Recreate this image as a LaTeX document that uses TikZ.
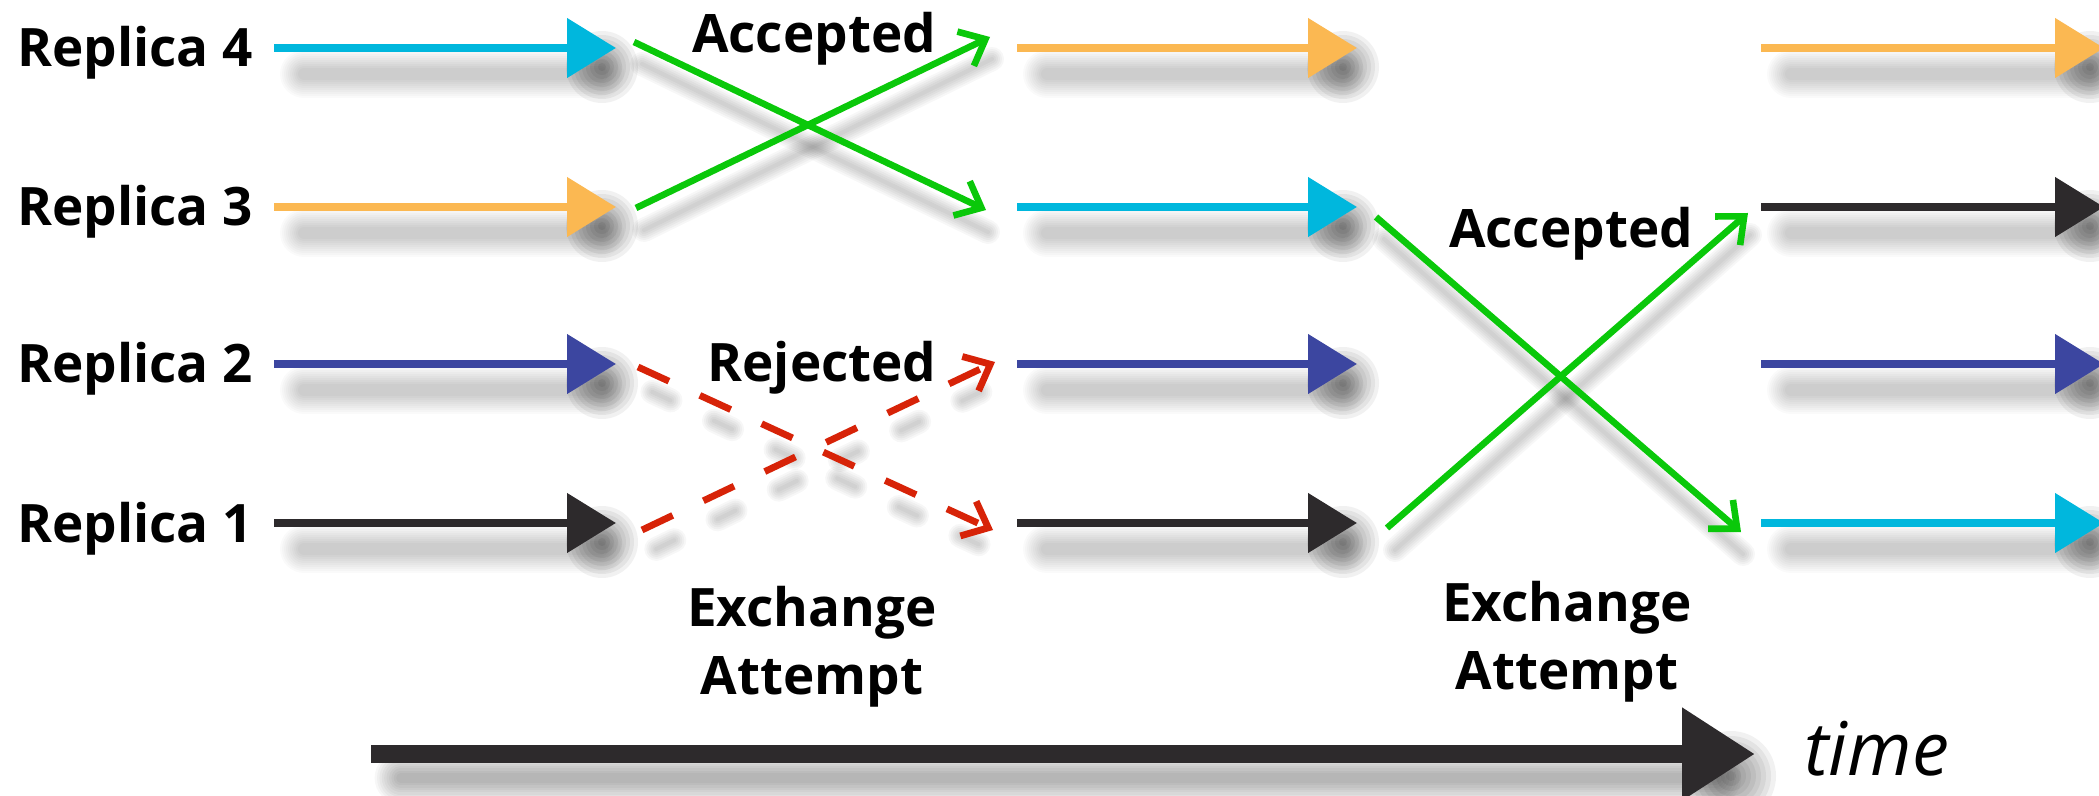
\documentclass[tikz,border=0pt]{standalone}
\usepackage{fontspec}
\setmainfont{Open Sans}
\usetikzlibrary{arrows.meta}

\definecolor{repcyan}{RGB}{0,183,221}
\definecolor{reporange}{RGB}{251,184,82}
\definecolor{repblue}{RGB}{60,70,160}
\definecolor{repdark}{RGB}{45,42,44}
\definecolor{swapgreen}{RGB}{10,200,10}
\definecolor{swapred}{RGB}{215,35,8}

\tikzset{
  lbl/.style={font=\fontsize{26.5}{34}\selectfont\bfseries, inner sep=0pt, text=black},
  run/.style={line width=4pt, -{Triangle[length=24.5pt,width=29pt]}},
  swap/.style={line width=3.3pt, swapgreen, -{Straight Barb[length=11pt,width=19pt]}},
  reject/.style={swap, swapred, line width=3.4pt, dash pattern=on 17pt off 17pt},
  shadowband/.style={line cap=round, draw=black, draw opacity=0.02},
  slantband/.style={line cap=round, draw=black, draw opacity=0.03},
  blobblur/.style={black, fill opacity=0.055},
}

% soft drop shadow under a horizontal run arrow, darker under its head
\newcommand\runshadow[2]{%
  \foreach \w in {3,...,12}
    \draw[shadowband, line width=\w*2pt] ([shift={(30,26)}]#1) -- ([shift={(-16,26)}]#2);
  \foreach \r in {4,8,...,36}
    \fill[blobblur] ([shift={(-14,19)}]#2) circle (\r);
}
% soft drop shadow under a slanted exchange arrow
\newcommand\slantshadow[3][]{%
  \foreach \w in {1,...,6}
    \draw[slantband, line width=\w*2pt, #1] ([shift={(8,22)}]#2) -- ([shift={(2,22)}]#3);
}

\begin{document}
\begin{tikzpicture}[x=0.5pt,y=-0.5pt]
\useasboundingbox (0,0) rectangle (2099,796);
\fill[white] (0,0) rectangle (2099,796);

% replica labels
\node[lbl, anchor=base west] (rep4) at (17,67)  {Replica 4};
\node[lbl, anchor=base west] (rep3) at (17,226) {Replica 3};
\node[lbl, anchor=base west] (rep2) at (17,383) {Replica 2};
\node[lbl, anchor=base west] (rep1) at (17,542) {Replica 1};

% run arrows: first segment
\coordinate (a4s) at (274,48);   \coordinate (a4e) at (616,48);
\coordinate (a3s) at (274,207);  \coordinate (a3e) at (616,207);
\coordinate (a2s) at (274,364);  \coordinate (a2e) at (616,364);
\coordinate (a1s) at (274,523);  \coordinate (a1e) at (616,523);
% second segment
\coordinate (b4s) at (1017,48);  \coordinate (b4e) at (1357,48);
\coordinate (b3s) at (1017,207); \coordinate (b3e) at (1357,207);
\coordinate (b2s) at (1017,364); \coordinate (b2e) at (1357,364);
\coordinate (b1s) at (1017,523); \coordinate (b1e) at (1357,523);
% third segment
\coordinate (c4s) at (1761,48);  \coordinate (c4e) at (2104,48);
\coordinate (c3s) at (1761,207); \coordinate (c3e) at (2104,207);
\coordinate (c2s) at (1761,364); \coordinate (c2e) at (2104,364);
\coordinate (c1s) at (1761,523); \coordinate (c1e) at (2104,523);

% exchange arrows
\coordinate (p43s) at (634,42);   \coordinate (p43e) at (986,210);
\coordinate (p34s) at (636,208);  \coordinate (p34e) at (990,37);
\coordinate (p21s) at (638,367);  \coordinate (p21e) at (993,530);
\coordinate (p12s) at (642,530);  \coordinate (p12e) at (995,362);
\coordinate (q31s) at (1376,217); \coordinate (q31e) at (1741,532);
\coordinate (q13s) at (1387,528); \coordinate (q13e) at (1748,213);

% time axis
\coordinate (ts) at (371,754); \coordinate (te) at (1755,754);

% shadows
\foreach \s/\e in {a4s/a4e,a3s/a3e,a2s/a2e,a1s/a1e,b4s/b4e,b3s/b3e,b2s/b2e,b1s/b1e,c4s/c4e,c3s/c3e,c2s/c2e,c1s/c1e}
  {\runshadow{\s}{\e}}
\slantshadow{p43s}{p43e}
\slantshadow{p34s}{p34e}
\slantshadow[dash pattern=on 10pt off 24pt, dash phase=30.5pt]{p21s}{p21e}
\slantshadow[dash pattern=on 10pt off 24pt, dash phase=30.5pt]{p12s}{p12e}
\slantshadow{q31s}{q31e}
\slantshadow{q13s}{q13e}
\foreach \w in {2,...,11}
  \draw[shadowband, draw opacity=0.032, line width=\w*2.4pt]
    ([shift={(30,24)}]ts) -- ([shift={(-40,24)}]te);
\foreach \r in {5,10,...,45}
  \fill[blobblur] ([shift={(-24,22)}]te) circle (\r);

% run arrows
\draw[run, repcyan]   (a4s) -- (a4e);
\draw[run, reporange] (a3s) -- (a3e);
\draw[run, repblue]   (a2s) -- (a2e);
\draw[run, repdark]   (a1s) -- (a1e);
\draw[run, reporange] (b4s) -- (b4e);
\draw[run, repcyan]   (b3s) -- (b3e);
\draw[run, repblue]   (b2s) -- (b2e);
\draw[run, repdark]   (b1s) -- (b1e);
\draw[run, reporange] (c4s) -- (c4e);
\draw[run, repdark]   (c3s) -- (c3e);
\draw[run, repblue]   (c2s) -- (c2e);
\draw[run, repcyan]   (c1s) -- (c1e);

% exchange attempts
\draw[swap]   (p43s) -- (p43e);
\draw[swap]   (p34s) -- (p34e);
\draw[reject] (p21s) -- (p21e);
\draw[reject] (p12s) -- (p12e);
\draw[swap]   (q31s) -- (q31e);
\draw[swap]   (q13s) -- (q13e);

% time axis
\draw[line width=9pt, repdark, -{Triangle[length=36.5pt,width=44pt]}] (ts) -- (te);
\node[font=\fontsize{37}{40}\selectfont\itshape, inner sep=0pt, anchor=base west] (time) at (1804,775) {time};

% outcome labels
\node[lbl, anchor=base] (acc1) at (814,53)   {Accepted};
\node[lbl, anchor=base] (rej1) at (822,382)  {Rejected};
\node[lbl, anchor=base] (acc2) at (1571,248) {Accepted};
\node[lbl, anchor=north, align=center] (ex1) at (812,586) {Exchange\\Attempt};
\node[lbl, anchor=north, align=center] (ex2) at (1567,581) {Exchange\\Attempt};
\end{tikzpicture}
\end{document}
